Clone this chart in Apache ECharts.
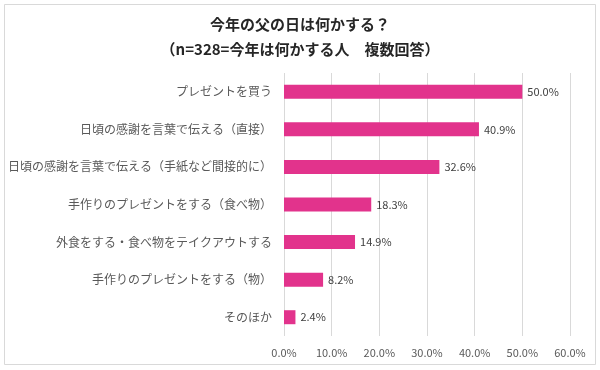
<!DOCTYPE html>
<html>
<head>
<meta charset="utf-8">
<script src="https://cdn.jsdelivr.net/npm/echarts@6/dist/echarts.min.js"></script>
<style>
html,body{margin:0;padding:0;background:#fff;}
#c{width:600px;height:370px;}
</style>
</head>
<body>
<div id="c"></div>
<script>
const titleLines = ['今年の父の日は何かする？', '（n=328=今年は何かする人　複数回答）'];
const categories = [
  'プレゼントを買う',
  '日頃の感謝を言葉で伝える（直接）',
  '日頃の感謝を言葉で伝える（手紙など間接的に）',
  '手作りのプレゼントをする（食べ物）',
  '外食をする・食べ物をテイクアウトする',
  '手作りのプレゼントをする（物）',
  'そのほか'
];
const values = [50.0, 40.9, 32.6, 18.3, 14.9, 8.2, 2.4];
const xTicks = [0, 10, 20, 30, 40, 50, 60];

const FONT = '"Noto Sans CJK JP", "Noto Sans", sans-serif';
const chart = echarts.init(document.getElementById('c'), null, {renderer: 'canvas'});
chart.setOption({
  backgroundColor: '#fff',
  animation: false,
  graphic: [{
    type: 'rect', left: 4, top: 4, z: -1,
    shape: {width: 591, height: 360},
    style: {fill: '#fff', stroke: '#D9D9D9', lineWidth: 1}
  }],
  title: {
    text: titleLines.join('\n'),
    left: 'center', top: 7,
    textStyle: {fontFamily: FONT, fontSize: 15, fontWeight: 'bold', color: '#262626', lineHeight: 25}
  },
  grid: {left: 284, right: 30, top: 73, bottom: 34, containLabel: false},
  xAxis: {
    type: 'value', min: xTicks[0], max: xTicks[xTicks.length - 1], interval: 10,
    axisLine: {show: false}, axisTick: {show: false},
    splitLine: {show: true, lineStyle: {color: '#D9D9D9', width: 1}},
    axisLabel: {
      formatter: v => v.toFixed(1) + '%', margin: 11,
      fontFamily: FONT, fontSize: 11, color: '#595959'
    }
  },
  yAxis: {
    type: 'category', data: categories, inverse: true,
    axisLine: {show: false}, axisTick: {show: false},
    axisLabel: {margin: 12, fontFamily: FONT, fontSize: 12, color: '#595959'}
  },
  series: [{
    type: 'bar', data: values, barWidth: 14,
    itemStyle: {color: '#E2338C'},
    label: {
      show: true, position: 'right', distance: 5,
      formatter: p => p.value.toFixed(1) + '%',
      fontFamily: FONT, fontSize: 11, color: '#404040'
    }
  }]
});
</script>
</body>
</html>
